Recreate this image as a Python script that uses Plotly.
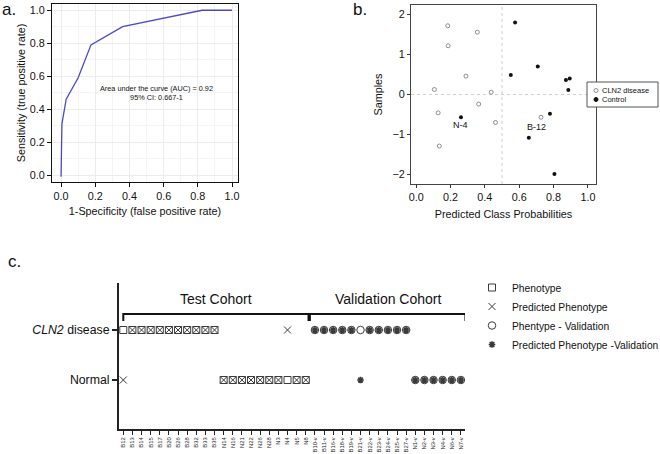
import plotly.graph_objects as go

# ---------------- Panel a: ROC curve ----------------
roc_fpr = [0.0, 0.005, 0.03, 0.10, 0.175, 0.36, 0.825, 1.0]
roc_tpr = [-0.01, 0.31, 0.46, 0.59, 0.79, 0.90, 1.0, 1.0]
auc_text = "Area under the curve (AUC) = 0.92<br>95% CI: 0.667-1"

# ---------------- Panel b: predicted class probabilities ----------------
cln2_prob = [0.184, 0.186, 0.356, 0.290, 0.106, 0.437, 0.364, 0.128, 0.462, 0.135, 0.727]
cln2_samp = [1.72, 1.22, 1.56, 0.46, 0.125, 0.058, -0.24, -0.46, -0.70, -1.29, -0.57]
ctrl_prob = [0.576, 0.708, 0.551, 0.872, 0.894, 0.886, 0.779, 0.656, 0.805, 0.261]
ctrl_samp = [1.80, 0.70, 0.49, 0.36, 0.40, 0.11, -0.48, -1.08, -1.99, -0.57]
b_labels = ["N-4", "B-12"]
b_legend_names = ["CLN2 disease", "Control"]

# ---------------- Panel c: phenotype vs prediction ----------------
rows = ["Normal", "CLN2 disease"]
row_ticktext = ["Normal", "<i>CLN2</i> disease"]
test_samples = ["B12", "B13", "B14", "B15", "B17", "B20", "B26", "B28", "B32", "B33", "B35",
                "N14", "N16", "N21", "N22", "N26", "N28", "N3", "N4", "N5", "N8"]
test_pheno = ["CLN2 disease"] * 11 + ["Normal"] * 10
test_pred = ["Normal"] + ["CLN2 disease"] * 10 + ["Normal"] * 7 + ["CLN2 disease"] + ["Normal"] * 2
val_samples = ["B10-v", "B11-v", "B16-v", "B18-v", "B19-v", "B21-v", "B22-v", "B23-v",
               "B24-v", "B25-v", "B27-v", "N1-v", "N2-v", "N3-v", "N4-v", "N6-v", "N7-v"]
val_pheno = ["CLN2 disease"] * 11 + ["Normal"] * 6
val_pred = ["CLN2 disease"] * 5 + ["Normal"] + ["CLN2 disease"] * 5 + ["Normal"] * 6
cohort_names = ["Test Cohort", "Validation Cohort"]

all_samples = test_samples + val_samples
FONT = "Liberation Sans, Arial, sans-serif"
W, H = 660, 454

fig = go.Figure()

# panel a
fig.add_trace(go.Scatter(x=roc_fpr, y=roc_tpr, mode="lines",
                         line=dict(color="#4a4ac4", width=1.3),
                         xaxis="x", yaxis="y", showlegend=False, hoverinfo="skip"))

# panel b
open_col = "#8c8c8c"
dot_col = "#111111"
fig.add_trace(go.Scatter(x=cln2_prob, y=cln2_samp, mode="markers", name=b_legend_names[0],
                         marker=dict(symbol="circle-open", size=4, color=open_col,
                                     line=dict(width=1, color=open_col)),
                         xaxis="x2", yaxis="y2", showlegend=False))
fig.add_trace(go.Scatter(x=ctrl_prob, y=ctrl_samp, mode="markers", name=b_legend_names[1],
                         marker=dict(symbol="circle", size=4, color=dot_col),
                         xaxis="x2", yaxis="y2", showlegend=False))

# panel c
mk = "#3a3a3a"
fig.add_trace(go.Scatter(x=test_samples, y=test_pheno, mode="markers", name="Phenotype",
                         marker=dict(symbol="square-open", size=7, color=mk, line=dict(width=1, color=mk)),
                         xaxis="x3", yaxis="y3", legend="legend2"))
fig.add_trace(go.Scatter(x=test_samples, y=test_pred, mode="markers", name="Predicted Phenotype",
                         marker=dict(symbol="x-thin-open", size=7, color=mk, line=dict(width=1, color=mk)),
                         xaxis="x3", yaxis="y3", legend="legend2"))
fig.add_trace(go.Scatter(x=val_samples, y=val_pheno, mode="markers", name="Phentype - Validation",
                         marker=dict(symbol="circle-open", size=7.5, color=mk, line=dict(width=1, color=mk)),
                         xaxis="x3", yaxis="y3", legend="legend2"))
fig.add_trace(go.Scatter(x=val_samples, y=val_pred, mode="markers", name="Predicted Phenotype -Validation",
                         marker=dict(symbol="asterisk-open", size=5.5, color=mk, line=dict(width=1.6, color=mk)),
                         xaxis="x3", yaxis="y3", legend="legend2"))

tick01 = [0, 0.2, 0.4, 0.6, 0.8, 1.0]
title_font = dict(family=FONT, size=10.8, color="#111")
tick_font = dict(family=FONT, size=10.8, color="#111")

shapes = []
# panel b reference lines
shapes.append(dict(type="line", xref="x2", yref="y2 domain", x0=0.5, x1=0.5, y0=0, y1=1,
                   line=dict(color="#cfcfcf", width=1, dash="dot"), layer="below"))
shapes.append(dict(type="line", xref="x2 domain", yref="y2", x0=0, x1=1, y0=0, y1=0,
                   line=dict(color="#cfcfcf", width=1, dash="dot"), layer="below"))
# panel b legend box (drawn by hand to keep the compact spacing)
lx0, lx1, ly0, ly1 = 587 / W, 658 / W, 1 - 107 / H, 1 - 82 / H
shapes.append(dict(type="rect", xref="paper", yref="paper", x0=lx0, x1=lx1, y0=ly0, y1=ly1,
                   line=dict(color="#555", width=1), fillcolor="white", layer="above"))
leg_rows_y = [1 - 90.5 / H, 1 - 99.5 / H]
sym_x = 596 / W
r = 2 / W
ry = 2 / H
shapes.append(dict(type="circle", xref="paper", yref="paper",
                   x0=sym_x - r, x1=sym_x + r, y0=leg_rows_y[0] - ry, y1=leg_rows_y[0] + ry,
                   line=dict(color=open_col, width=1), fillcolor="white", layer="above"))
shapes.append(dict(type="circle", xref="paper", yref="paper",
                   x0=sym_x - r, x1=sym_x + r, y0=leg_rows_y[1] - ry, y1=leg_rows_y[1] + ry,
                   line=dict(color=dot_col, width=1), fillcolor=dot_col, layer="above"))
# panel c brackets
idx0 = all_samples.index(test_samples[0])
idx1 = all_samples.index(test_samples[-1])
idx2 = all_samples.index(val_samples[0])
idx3 = all_samples.index(val_samples[-1])
brackets = [(idx0, idx1 + 0.3), (idx2 - 0.55, idx3 + 0.5)]
for (a, b) in brackets:
    shapes.append(dict(type="path", xref="x3", yref="y3",
                       path=f"M {a},1.18 L {a},1.32 L {b},1.32 L {b},1.18",
                       line=dict(color="#111", width=2)))

annotations = [
    dict(text="a.", x=0.0, y=1 - 9 / H, xref="paper", yref="paper", showarrow=False,
         font=dict(family=FONT, size=17, color="#111"), xanchor="left", yanchor="middle"),
    dict(text="b.", x=351 / W, y=1 - 9 / H, xref="paper", yref="paper", showarrow=False,
         font=dict(family=FONT, size=17, color="#111"), xanchor="left", yanchor="middle"),
    dict(text="c.", x=6 / W, y=1 - 261 / H, xref="paper", yref="paper", showarrow=False,
         font=dict(family=FONT, size=17, color="#111"), xanchor="left", yanchor="middle"),
    dict(text=auc_text, x=0.556, y=0.50, xref="x", yref="y", showarrow=False,
         font=dict(family=FONT, size=7.3, color="#111"), align="center"),
    dict(text=b_labels[0], x=ctrl_prob[-1], y=ctrl_samp[-1], xref="x2", yref="y2", showarrow=False,
         font=dict(family=FONT, size=9, color="#111"), yanchor="top", yshift=-1),
    dict(text=b_labels[1], x=cln2_prob[-1], y=cln2_samp[-1], xref="x2", yref="y2", showarrow=False,
         font=dict(family=FONT, size=9, color="#111"), yanchor="top", yshift=-3, xshift=-5),
]
for name, yy in zip(b_legend_names, leg_rows_y):
    annotations.append(dict(text=name, x=600 / W, y=yy, xref="paper", yref="paper", showarrow=False,
                            xanchor="left", yanchor="middle",
                            font=dict(family=FONT, size=7.5, color="#111")))
for name, (a, b) in zip(cohort_names, brackets):
    annotations.append(dict(text=name, x=(a + b) / 2, y=1.62, xref="x3", yref="y3", showarrow=False,
                            font=dict(family=FONT, size=14, color="#111")))

fig.update_layout(
    width=W, height=H, margin=dict(l=0, r=0, t=0, b=0, autoexpand=False),
    paper_bgcolor="white", plot_bgcolor="white",
    font=dict(family=FONT, color="#111"),
    xaxis=dict(domain=[52 / W, 238 / W], range=[-0.053, 1.035], anchor="y",
               tickvals=tick01, tickformat=".1f", ticks="outside", ticklen=4, tickcolor="#111",
               showline=True, mirror=True, linecolor="#111", linewidth=1,
               showgrid=True, gridcolor="#ececec", gridwidth=1, zeroline=False,
               minor=dict(dtick=0.1, showgrid=True, gridcolor="#f4f4f4"),
               tickfont=tick_font,
               title=dict(text="1-Specificity (false positive rate)", font=title_font, standoff=6)),
    yaxis=dict(domain=[1 - 182 / H, 1 - 4 / H], range=[-0.0425, 1.038], anchor="x",
               tickvals=tick01, tickformat=".1f", ticks="outside", ticklen=4, tickcolor="#111",
               showline=True, mirror=True, linecolor="#111", linewidth=1,
               showgrid=True, gridcolor="#ececec", gridwidth=1, zeroline=False,
               minor=dict(dtick=0.1, showgrid=True, gridcolor="#f4f4f4"),
               tickfont=tick_font,
               title=dict(text="Sensitivity (true positive rate)", font=title_font, standoff=2)),
    xaxis2=dict(domain=[411 / W, 596 / W], range=[-0.03, 1.047], anchor="y2",
                tickvals=tick01, tickformat=".1f", ticks="outside", ticklen=3, tickcolor="#333",
                showline=True, mirror=True, linecolor="#444", linewidth=1.3,
                showgrid=False, zeroline=False, tickfont=tick_font,
                title=dict(text="Predicted Class Probabilities", font=title_font, standoff=8)),
    yaxis2=dict(domain=[1 - 184 / H, 1 - 5 / H], range=[-2.24, 2.24], anchor="x2",
                tickvals=[-2, -1, 0, 1, 2], ticks="outside", ticklen=3, tickcolor="#333",
                showline=True, mirror=True, linecolor="#444", linewidth=1.3,
                showgrid=False, zeroline=False, tickfont=tick_font,
                title=dict(text="Samples", font=title_font, standoff=7)),
    xaxis3=dict(domain=[119 / W, 465 / W], type="category", categoryorder="array",
                categoryarray=all_samples, range=[-0.47, 37.45], anchor="y3",
                tickangle=-90, tickfont=dict(family=FONT, size=5.8, color="#222"),
                ticks="outside", ticklen=4, tickwidth=1.3, tickcolor="#222",
                showline=True, linecolor="#222", linewidth=2, showgrid=False, zeroline=False),
    yaxis3=dict(domain=[1 - 429 / H, 1 - 283 / H], type="category", categoryorder="array",
                categoryarray=rows, range=[-0.98, 1.94], anchor="x3",
                tickvals=rows, ticktext=row_ticktext,
                tickfont=dict(family=FONT, size=12.3, color="#111"),
                ticks="outside", ticklen=5, tickwidth=1.5, tickcolor="#222",
                showline=True, linecolor="#222", linewidth=2, showgrid=False, zeroline=False),
    legend2=dict(x=472 / W, xanchor="left", y=1 - 273 / H, yanchor="top",
                 bgcolor="rgba(0,0,0,0)", borderwidth=0,
                 font=dict(family=FONT, size=10.3, color="#111"),
                 itemwidth=30, tracegroupgap=0),
    shapes=shapes, annotations=annotations,
)

fig.write_html("out.html", config={"displayModeBar": False},
               post_script="document.body.style.margin='0px';document.body.style.padding='0px';")
